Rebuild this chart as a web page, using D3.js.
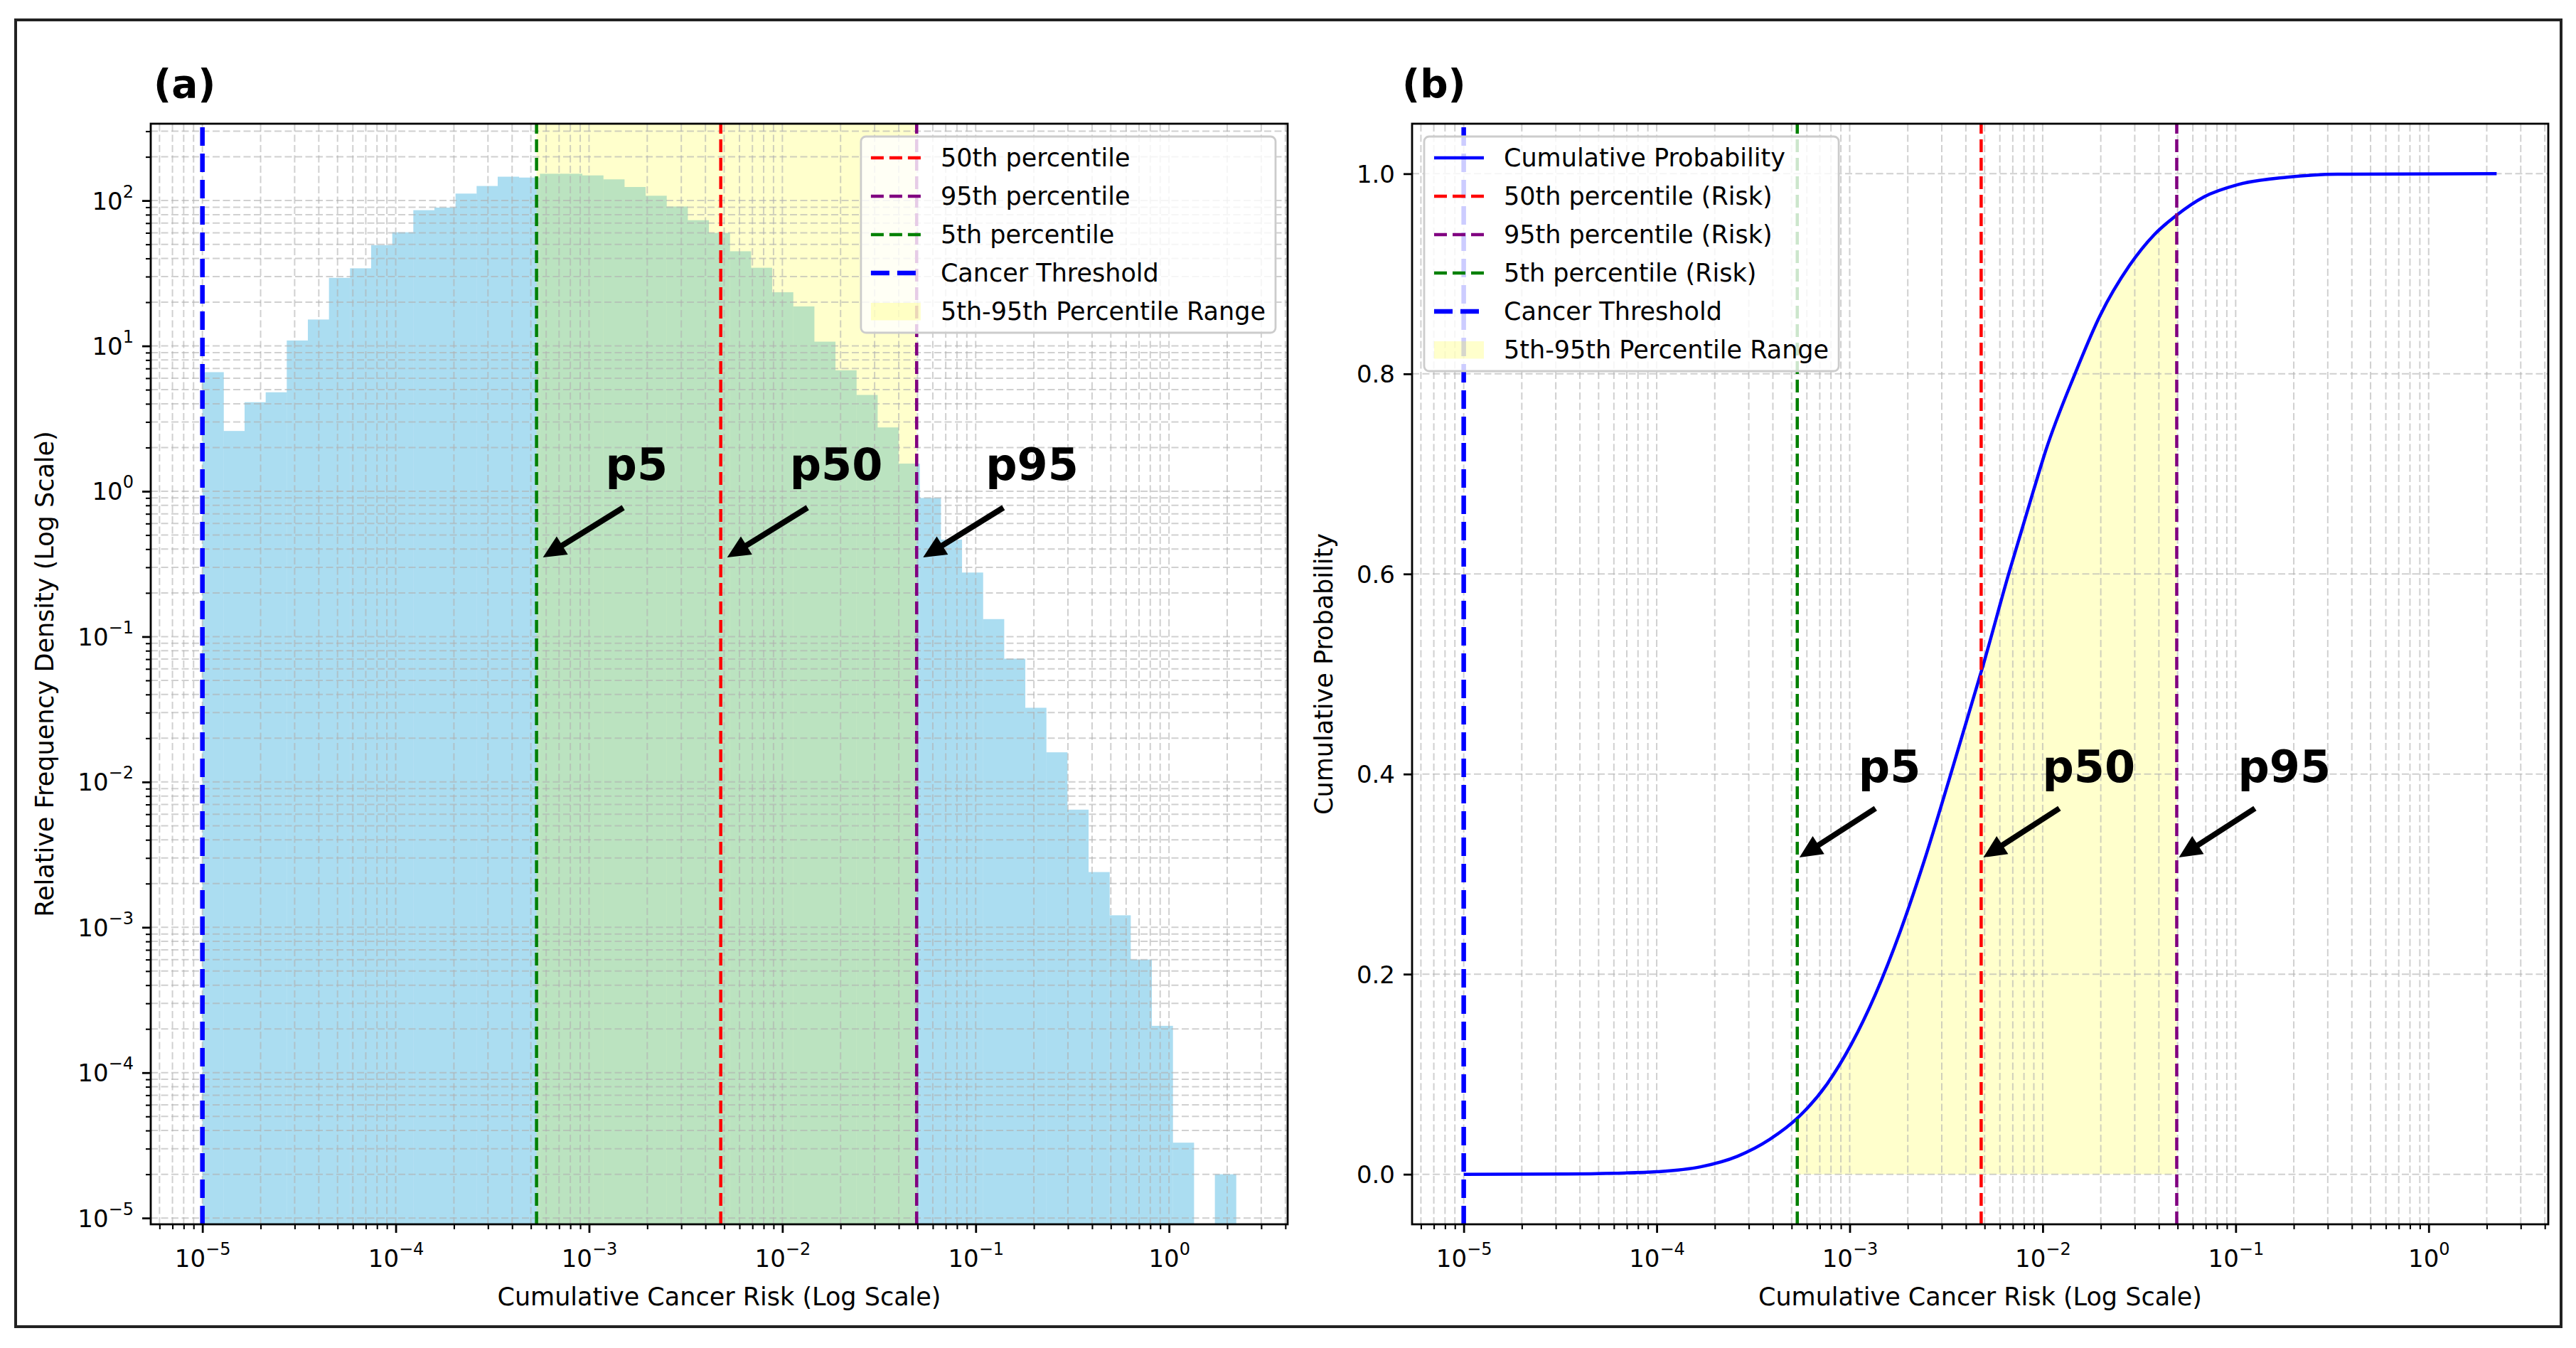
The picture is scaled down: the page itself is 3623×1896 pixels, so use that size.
<!DOCTYPE html>
<html>
<head>
<meta charset="utf-8">
<script src="https://cdn.jsdelivr.net/npm/d3@7"></script>
<style>
  body { margin: 0; background: #fff; }
  text { font-family: "DejaVu Sans", sans-serif; fill: #000; }
</style>
</head>
<body>
<svg id="fig"></svg>
<script>
var svgWidth = 3623;
var svgHeight = 1896;

// ---- data ----
// (a) histogram: 49 log-spaced bins between histRange[0] and histRange[1]
var histRange = [1e-5, 2.22];
var histDensity = [6.6, 2.6, 4.1, 4.8, 10.9, 15.2, 29.4, 34.2, 49.4, 60.5,
  85.9, 89.5, 111.7, 126, 146, 144, 153, 153, 149, 140,
  124, 108, 91, 73.3, 60, 44.8, 34.5, 23.4, 18.7, 10.7,
  6.8, 4.6, 2.75, 1.55, 0.90, 0.465, 0.276, 0.132, 0.0705, 0.0324,
  0.016, 0.00645, 0.0024, 0.00121, 0.0006, 0.00021, 0.000033, 0, 0.00002];

// (b) cumulative probability curve
var cdfRisk = [1e-5, 3.4e-5, 6e-5, 1e-4, 1.69e-4, 2.62e-4, 3.86e-4, 5.42e-4, 7.62e-4,
  1.02e-3, 1.36e-3, 1.83e-3, 2.44e-3, 3.27e-3, 4.39e-3, 4.85e-3, 6.64e-3,
  8.95e-3, 1.04e-2, 1.47e-2, 1.98e-2, 2.81e-2, 3.78e-2, 4.90e-2, 6.87e-2,
  0.102, 0.185, 0.337, 2.25];
var cdfProb = [0, 0.0003, 0.001, 0.0025, 0.0075, 0.018, 0.035, 0.057, 0.090,
  0.130, 0.180, 0.243, 0.314, 0.394, 0.477, 0.505, 0.599,
  0.683, 0.724, 0.800, 0.858, 0.908, 0.939, 0.958, 0.977,
  0.989, 0.9965, 0.9995, 1.0];

var threshold = 1e-5;
var p5 = 5.35e-4;
var p50 = 4.8e-3;
var p95 = 0.0495;

var pointerValues = [p5, p50, p95];
var pointerLabels = ["p5", "p50", "p95"];

var xTickValues = [1e-5, 1e-4, 1e-3, 1e-2, 1e-1, 1];
var xTickExps = ["\u22125", "\u22124", "\u22123", "\u22122", "\u22121", "0"];
var yTickValuesA = [1e-5, 1e-4, 1e-3, 1e-2, 1e-1, 1, 10, 100];
var yTickExpsA = ["\u22125", "\u22124", "\u22123", "\u22122", "\u22121", "0", "1", "2"];
var yTickValuesB = [0, 0.2, 0.4, 0.6, 0.8, 1.0];
var yTickLabelsB = ["0.0", "0.2", "0.4", "0.6", "0.8", "1.0"];

var legendKeysA = ["p50", "p95", "p5", "thr", "range"];
var legendLabelsA = ["50th percentile", "95th percentile", "5th percentile",
  "Cancer Threshold", "5th-95th Percentile Range"];
var legendKeysB = ["cdf", "p50", "p95", "p5", "thr", "range"];
var legendLabelsB = ["Cumulative Probability", "50th percentile (Risk)",
  "95th percentile (Risk)", "5th percentile (Risk)", "Cancer Threshold",
  "5th-95th Percentile Range"];

// ---- styles ----
var styles = {
  cdf:   { color: "#0000ff", width: 4.5, dash: null },
  p50:   { color: "#ff0000", width: 4.5, dash: "18,8" },
  p95:   { color: "#800080", width: 4.5, dash: "18,8" },
  p5:    { color: "#008000", width: 4.5, dash: "18,8" },
  thr:   { color: "#0000ff", width: 6.5, dash: "26,11" },
  range: { color: "#ffff00", opacity: 0.2 }
};

var boxA = { left: 212, right: 1811, top: 174, bottom: 1722 };
var boxB = { left: 1986, right: 3584, top: 174, bottom: 1722 };

var svg = d3.select("#fig")
  .attr("width", svgWidth)
  .attr("height", svgHeight);

svg.append("rect")
  .attr("width", svgWidth).attr("height", svgHeight)
  .attr("fill", "#fff");

svg.append("rect")
  .attr("x", 22).attr("y", 28)
  .attr("width", 3580).attr("height", 1838)
  .attr("fill", "none")
  .attr("stroke", "#222")
  .attr("stroke-width", 4);

function padLog(lo, hi) {
  var a = Math.log10(lo), b = Math.log10(hi), p = (b - a) * 0.05;
  return [Math.pow(10, a - p), Math.pow(10, b + p)];
}

function logTicks(domain) {
  var out = [];
  var a = Math.floor(Math.log10(domain[0])), b = Math.ceil(Math.log10(domain[1]));
  for (var n = a; n <= b; n++) {
    for (var k = 1; k <= 9; k++) {
      var v = k * Math.pow(10, n);
      if (v >= domain[0] && v <= domain[1]) out.push({ v: v, major: k === 1 });
    }
  }
  return out;
}

function clipFor(id, box) {
  svg.append("clipPath").attr("id", id)
    .append("rect")
    .attr("x", box.left).attr("y", box.top)
    .attr("width", box.right - box.left)
    .attr("height", box.bottom - box.top);
  return "url(#" + id + ")";
}

function drawGrid(g, box, xs, xt, ys, yt) {
  var grid = g.append("g")
    .attr("stroke", "#b0b0b0")
    .attr("stroke-opacity", 0.6)
    .attr("stroke-width", 2)
    .attr("stroke-dasharray", "10,4.5");

  grid.selectAll(".gx").data(xt).enter().append("line")
    .attr("x1", d => xs(d)).attr("x2", d => xs(d))
    .attr("y1", box.bottom).attr("y2", box.top);

  grid.selectAll(".gy").data(yt).enter().append("line")
    .attr("y1", d => ys(d)).attr("y2", d => ys(d))
    .attr("x1", box.left).attr("x2", box.right);
}

function vline(g, xs, box, value, key) {
  var s = styles[key];
  g.append("line")
    .attr("x1", xs(value)).attr("x2", xs(value))
    .attr("y1", box.bottom).attr("y2", box.top)
    .attr("stroke", s.color)
    .attr("stroke-width", s.width)
    .attr("stroke-dasharray", s.dash);
}

function expLabel(text, exp) {
  text.text("10");
  text.append("tspan")
    .attr("dy", -17)
    .attr("font-size", 24)
    .text(exp);
}

function xAxisLog(g, xs, box, minors) {
  g.append("g")
    .attr("transform", `translate(0, ${box.bottom})`)
    .call(d3.axisBottom(xs).tickValues(minors).tickSize(7).tickFormat(""))
    .call(a => a.select(".domain").remove())
    .call(a => a.selectAll("line").attr("stroke", "#000").attr("stroke-width", 2.1));

  g.append("g")
    .attr("transform", `translate(0, ${box.bottom})`)
    .call(d3.axisBottom(xs).tickValues(xTickValues).tickSize(12).tickPadding(12).tickFormat(""))
    .call(a => a.select(".domain").remove())
    .call(a => a.selectAll("line").attr("stroke", "#000").attr("stroke-width", 2.8))
    .call(a => a.selectAll(".tick text")
      .attr("y", 60).attr("dy", null).attr("fill", "#000")
      .attr("font-family", "DejaVu Sans").attr("font-size", 34)
      .each(function(d, i) { expLabel(d3.select(this), xTickExps[i]); }));
}

function spines(g, box) {
  g.append("rect")
    .attr("x", box.left).attr("y", box.top)
    .attr("width", box.right - box.left)
    .attr("height", box.bottom - box.top)
    .attr("fill", "none")
    .attr("stroke", "#000")
    .attr("stroke-width", 2.8);
}

function drawLegend(g, keys, labels, box, side) {
  var lg = g.append("g");
  var frame = lg.append("rect");
  var rowTop = box.top + 18;
  var rows = [];
  var maxW = 0;
  keys.forEach(function(k, i) {
    var cy = rowTop + 30 + i * 54;
    var t = lg.append("text")
      .attr("y", cy + 12)
      .attr("font-size", 35)
      .text(labels[i]);
    maxW = Math.max(maxW, t.node().getComputedTextLength());
    rows.push({ key: k, cy: cy, text: t });
  });
  var w = 14 + 70 + 28 + maxW + 14;
  var h = 30 + (keys.length - 1) * 54 + 30;
  var left = side === "right" ? box.right - 17 - w : box.left + 17;
  frame
    .attr("x", left).attr("y", rowTop)
    .attr("width", w).attr("height", h)
    .attr("rx", 7)
    .attr("fill", "#fff").attr("fill-opacity", 0.8)
    .attr("stroke", "#cccccc").attr("stroke-width", 2.8);
  rows.forEach(function(r) {
    var s = styles[r.key];
    r.text.attr("x", left + 14 + 70 + 28);
    if (r.key === "range") {
      lg.insert("rect", "text")
        .attr("x", left + 14).attr("y", r.cy - 12)
        .attr("width", 70).attr("height", 24.5)
        .attr("fill", s.color).attr("fill-opacity", s.opacity);
    } else {
      lg.insert("line", "text")
        .attr("x1", left + 14).attr("x2", left + 84)
        .attr("y1", r.cy).attr("y2", r.cy)
        .attr("stroke", s.color)
        .attr("stroke-width", s.width)
        .attr("stroke-dasharray", s.dash);
    }
  });
}

function arrow(g, x1, y1, x2, y2) {
  var dx = x2 - x1, dy = y2 - y1, len = Math.sqrt(dx * dx + dy * dy);
  var ux = dx / len, uy = dy / len;
  var headL = 32, headW = 15;
  var bx = x2 - ux * headL, by = y2 - uy * headL;
  g.append("line")
    .attr("x1", x1).attr("y1", y1)
    .attr("x2", bx + ux * 2).attr("y2", by + uy * 2)
    .attr("stroke", "#000").attr("stroke-width", 8);
  g.append("polygon")
    .attr("points", [[x2, y2], [bx - uy * headW, by + ux * headW], [bx + uy * headW, by - ux * headW]].join(" "))
    .attr("fill", "#000");
}

function drawPointers(g, xs, cfg) {
  pointerValues.forEach(function(v, i) {
    var lx = xs(v);
    g.append("text")
      .attr("x", lx + cfg.textDx)
      .attr("y", cfg.textY)
      .attr("font-size", 62)
      .attr("font-weight", "bold")
      .text(pointerLabels[i]);
    arrow(g, lx + cfg.tailDx, cfg.tailY, lx + cfg.tipDx, cfg.tipY);
  });
}

// =================== panel (a) ===================
var gA = svg.append("g");

var binEdges = d3.range(histDensity.length + 1).map(i =>
  histRange[0] * Math.pow(histRange[1] / histRange[0], i / histDensity.length));
var bins = histDensity.map((d, i) => ({ x0: binEdges[i], x1: binEdges[i + 1], v: d }))
  .filter(b => b.v > 0);

var xA = d3.scaleLog()
  .domain(padLog(histRange[0], histRange[1]))
  .range([boxA.left, boxA.right]);

var yA = d3.scaleLog()
  .domain(padLog(d3.min(bins, b => b.v), d3.max(bins, b => b.v)))
  .range([boxA.bottom, boxA.top]);

var clipA = clipFor("clipA", boxA);

gA.append("g")
  .attr("clip-path", clipA)
  .selectAll("rect")
  .data(bins)
  .enter()
  .append("rect")
  .attr("x", d => xA(d.x0))
  .attr("width", d => xA(d.x1) - xA(d.x0) + 0.4)
  .attr("y", d => yA(d.v))
  .attr("height", d => boxA.bottom - yA(d.v))
  .attr("fill", "#abddf1");

gA.append("rect")
  .attr("x", xA(p5))
  .attr("width", xA(p95) - xA(p5))
  .attr("y", boxA.top)
  .attr("height", boxA.bottom - boxA.top)
  .attr("fill", styles.range.color)
  .attr("fill-opacity", styles.range.opacity);

var xTicksA = logTicks(xA.domain());
var yTicksA = logTicks(yA.domain());
drawGrid(gA, boxA, xA, xTicksA.map(d => d.v), yA, yTicksA.map(d => d.v));

vline(gA, xA, boxA, p50, "p50");
vline(gA, xA, boxA, p95, "p95");
vline(gA, xA, boxA, p5, "p5");
vline(gA, xA, boxA, threshold, "thr");

xAxisLog(gA, xA, boxA, xTicksA.filter(d => !d.major).map(d => d.v));

gA.append("g")
  .attr("transform", `translate(${boxA.left}, 0)`)
  .call(d3.axisLeft(yA).tickValues(yTicksA.filter(d => !d.major).map(d => d.v)).tickSize(7).tickFormat(""))
  .call(a => a.select(".domain").remove())
  .call(a => a.selectAll("line").attr("stroke", "#000").attr("stroke-width", 2.1));

gA.append("g")
  .attr("transform", `translate(${boxA.left}, 0)`)
  .call(d3.axisLeft(yA).tickValues(yTickValuesA).tickSize(12).tickPadding(12).tickFormat(""))
  .call(a => a.select(".domain").remove())
  .call(a => a.selectAll("line").attr("stroke", "#000").attr("stroke-width", 2.8))
  .call(a => a.selectAll(".tick text")
    .attr("y", 12).attr("dy", null).attr("fill", "#000")
    .attr("font-family", "DejaVu Sans").attr("font-size", 34)
    .each(function(d, i) { expLabel(d3.select(this), yTickExpsA[i]); }));

spines(gA, boxA);

gA.append("text")
  .attr("x", (boxA.left + boxA.right) / 2)
  .attr("y", 1836)
  .attr("text-anchor", "middle")
  .attr("font-size", 35)
  .text("Cumulative Cancer Risk (Log Scale)");

gA.append("text")
  .attr("transform", `translate(75, ${(boxA.top + boxA.bottom) / 2}) rotate(-90)`)
  .attr("text-anchor", "middle")
  .attr("font-size", 35)
  .text("Relative Frequency Density (Log Scale)");

gA.append("text")
  .attr("x", 216).attr("y", 137)
  .attr("font-size", 55)
  .attr("font-weight", "bold")
  .text("(a)");

drawLegend(gA, legendKeysA, legendLabelsA, boxA, "right");
drawPointers(gA, xA, { textDx: 97, textY: 675, tailDx: 122, tailY: 714, tipDx: 9, tipY: 784 });

// =================== panel (b) ===================
var gB = svg.append("g");

var xB = d3.scaleLog()
  .domain(padLog(cdfRisk[0], cdfRisk[cdfRisk.length - 1]))
  .range([boxB.left, boxB.right]);

var yB = d3.scaleLinear()
  .domain([-0.05, 1.05])
  .range([boxB.bottom, boxB.top]);

var cdfPts = cdfRisk.map((r, i) => [r, cdfProb[i]]);

svg.append("clipPath").attr("id", "clipRange")
  .append("rect")
  .attr("x", xB(p5)).attr("y", boxB.top)
  .attr("width", xB(p95) - xB(p5))
  .attr("height", boxB.bottom - boxB.top);

gB.append("path")
  .datum(cdfPts)
  .attr("clip-path", "url(#clipRange)")
  .attr("d", d3.area()
    .x(d => xB(d[0]))
    .y0(yB(0))
    .y1(d => yB(d[1]))
    .curve(d3.curveMonotoneX))
  .attr("fill", styles.range.color)
  .attr("fill-opacity", styles.range.opacity);

var xTicksB = logTicks(xB.domain());
drawGrid(gB, boxB, xB, xTicksB.map(d => d.v), yB, yTickValuesB);

gB.append("path")
  .datum(cdfPts)
  .attr("d", d3.line()
    .x(d => xB(d[0]))
    .y(d => yB(d[1]))
    .curve(d3.curveMonotoneX))
  .attr("fill", "none")
  .attr("stroke", styles.cdf.color)
  .attr("stroke-width", styles.cdf.width);

vline(gB, xB, boxB, p50, "p50");
vline(gB, xB, boxB, p95, "p95");
vline(gB, xB, boxB, p5, "p5");
vline(gB, xB, boxB, threshold, "thr");

xAxisLog(gB, xB, boxB, xTicksB.filter(d => !d.major).map(d => d.v));

gB.append("g")
  .attr("transform", `translate(${boxB.left}, 0)`)
  .call(d3.axisLeft(yB).tickValues(yTickValuesB).tickSize(12).tickPadding(12)
    .tickFormat((d, i) => yTickLabelsB[i]))
  .call(a => a.select(".domain").remove())
  .call(a => a.selectAll("line").attr("stroke", "#000").attr("stroke-width", 2.8))
  .call(a => a.selectAll(".tick text").attr("y", 12).attr("dy", null).attr("fill", "#000")
    .attr("font-family", "DejaVu Sans").attr("font-size", 34));

spines(gB, boxB);

gB.append("text")
  .attr("x", (boxB.left + boxB.right) / 2)
  .attr("y", 1836)
  .attr("text-anchor", "middle")
  .attr("font-size", 35)
  .text("Cumulative Cancer Risk (Log Scale)");

gB.append("text")
  .attr("transform", `translate(1874, ${(boxB.top + boxB.bottom) / 2}) rotate(-90)`)
  .attr("text-anchor", "middle")
  .attr("font-size", 35)
  .text("Cumulative Probability");

gB.append("text")
  .attr("x", 1972).attr("y", 137)
  .attr("font-size", 55)
  .attr("font-weight", "bold")
  .text("(b)");

drawLegend(gB, legendKeysB, legendLabelsB, boxB, "left");
drawPointers(gB, xB, { textDx: 86, textY: 1100, tailDx: 110, tailY: 1137, tipDx: 3, tipY: 1206 });
</script>
</body>
</html>
